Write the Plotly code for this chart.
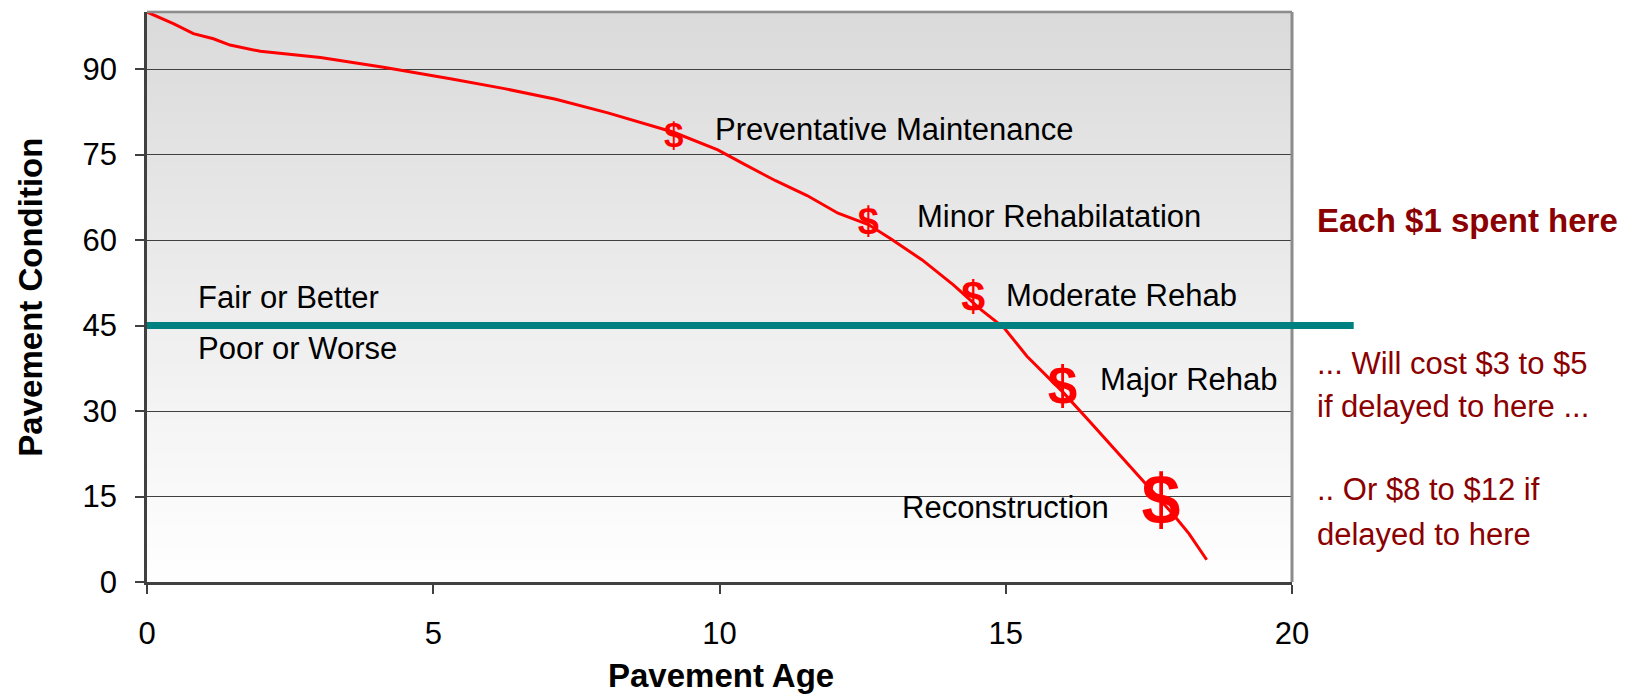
import plotly.graph_objects as go

# ---------------- data ----------------
pavement_age = [0, 0.47, 0.81, 1.16, 1.45, 1.98, 3.03, 4.13, 5.3, 6.22, 7.14, 8.05, 9.2, 9.97,
                10.43, 10.98, 11.53, 12.07, 12.6, 12.99, 13.54, 14.09, 14.55, 14.97, 15.37,
                15.99, 16.47, 17.01, 17.56, 17.93, 18.2, 18.51]
pavement_condition = [100, 97.9, 96.2, 95.3, 94.2, 93.1, 92.0, 90.3, 88.3, 86.6, 84.7, 82.3, 78.9,
                      75.8, 73.3, 70.4, 67.8, 64.7, 62.7, 60.2, 56.5, 52.1, 47.9, 44.6, 39.6,
                      33.4, 28.1, 22.1, 15.9, 11.8, 8.5, 3.9]

stage_names = ["Preventative Maintenance", "Minor Rehabilatation", "Moderate Rehab",
               "Major Rehab", "Reconstruction"]
stage_age = [9.2, 12.6, 14.43, 15.99, 17.71]
stage_condition = [77.8, 62.7, 49.4, 33.5, 13.3]

threshold = 45
x_ticks = [0, 5, 10, 15, 20]
y_ticks = [0, 15, 30, 45, 60, 75, 90]

cost_notes = ["Each $1 spent here", "... Will cost $3 to $5", "if delayed to here ...",
              ".. Or $8 to $12 if", "delayed to here"]

# ---------------- styling / placement ----------------
FONT = "Arial, 'Liberation Sans', sans-serif"
dollar_sizes = [35, 38, 43, 53, 70]
label_x = [9.88, 13.41, 14.97, 16.61, 16.83]
label_y = [79.4, 64.2, 50.2, 35.5, 13.0]
label_anchor = ["left", "left", "left", "left", "right"]
note_y = [0.6335, 0.3835, 0.308, 0.163, 0.084]
note_bold = [True, False, False, False, False]

W, H = 1643, 694
ML, MR, MT, MB = 147, 351, 12, 112

fig = go.Figure()

# curve
fig.add_trace(go.Scatter(x=pavement_age, y=pavement_condition, mode="lines",
                         line=dict(color="#ff0000", width=3), hoverinfo="skip",
                         showlegend=False))
# dollar signs
fig.add_trace(go.Scatter(x=stage_age, y=stage_condition, mode="text", text=["$"] * len(stage_age),
                         textposition="middle center",
                         textfont=dict(family=FONT, size=dollar_sizes, color="#ff0000",
                                       weight="bold"),
                         cliponaxis=False, showlegend=False, hoverinfo="skip"))

shapes = []
# gradient background bands (grey at top, white at bottom)
n = 80
for i in range(n):
    t0 = i / n
    t1 = (i + 1) / n
    frac = (t0 + t1) / 2  # 1 at top
    g = int(round(255 - 37 * frac))
    shapes.append(dict(type="rect", xref="paper", yref="paper", x0=0, x1=1, y0=t0, y1=t1 + 0.002,
                       fillcolor=f"rgb({g},{g},{g})", line=dict(width=0), layer="below"))
# top and right gray border
shapes.append(dict(type="line", xref="paper", yref="paper", x0=0, x1=1, y0=1, y1=1,
                   line=dict(color="#8c8c8c", width=2.5)))
shapes.append(dict(type="line", xref="paper", yref="paper", x0=1, x1=1, y0=0, y1=1,
                   line=dict(color="#8c8c8c", width=3)))
# threshold line
shapes.append(dict(type="line", xref="paper", yref="y", x0=0, x1=1.0539, y0=threshold,
                   y1=threshold, line=dict(color="#008080", width=7)))

annotations = []
for name, lx, ly, anc in zip(stage_names, label_x, label_y, label_anchor):
    annotations.append(dict(x=lx, y=ly, xref="x", yref="y", text=name, showarrow=False,
                            xanchor=anc, yanchor="middle",
                            font=dict(family=FONT, size=31, color="#000000")))
annotations.append(dict(x=0.86, y=50.0, xref="x", yref="y", text="Fair or Better",
                        showarrow=False, xanchor="left", yanchor="middle",
                        font=dict(family=FONT, size=31, color="#000000")))
annotations.append(dict(x=0.86, y=40.9, xref="x", yref="y", text="Poor or Worse",
                        showarrow=False, xanchor="left", yanchor="middle",
                        font=dict(family=FONT, size=31, color="#000000")))
for txt, ny, b in zip(cost_notes, note_y, note_bold):
    annotations.append(dict(x=1.0198, y=ny, xref="paper", yref="paper", text=txt,
                            showarrow=False, xanchor="left", yanchor="middle",
                            font=dict(family=FONT, size=33 if b else 31, color="#8b0000",
                                      weight="bold" if b else "normal")))
# axis titles
annotations.append(dict(x=-0.1025, y=0.5, xref="paper", yref="paper", text="Pavement Condition",
                        textangle=-90, showarrow=False, xanchor="center", yanchor="middle",
                        font=dict(family=FONT, size=33, color="#000000", weight="bold")))
annotations.append(dict(x=0.5013, y=-0.1643, xref="paper", yref="paper", text="Pavement Age",
                        showarrow=False, xanchor="center", yanchor="middle",
                        font=dict(family=FONT, size=33, color="#000000", weight="bold")))

fig.update_layout(
    width=W, height=H,
    margin=dict(l=ML, r=MR, t=MT, b=MB, pad=0),
    paper_bgcolor="#ffffff", plot_bgcolor="#ffffff",
    shapes=shapes, annotations=annotations,
    xaxis=dict(range=[0, 20], tickvals=x_ticks, showgrid=False, zeroline=False,
               showline=True, linecolor="#404040", linewidth=2.5,
               ticks="outside", ticklen=9, tickwidth=1.5, tickcolor="#404040",
               tickfont=dict(family=FONT, size=31, color="#000000"),
               ticklabelstandoff=13, fixedrange=True),
    yaxis=dict(range=[0, 100], tickvals=y_ticks, showgrid=True, gridcolor="#404040",
               gridwidth=1, zeroline=False, showline=True, linecolor="#404040", linewidth=2.5,
               ticks="outside", ticklen=9, tickwidth=1.5, tickcolor="#404040",
               tickfont=dict(family=FONT, size=31, color="#000000"),
               ticklabelstandoff=12, fixedrange=True),
    showlegend=False,
)

fig.write_html("out.html", config={"displayModeBar": False},
               post_script="document.body.style.margin='0';")
